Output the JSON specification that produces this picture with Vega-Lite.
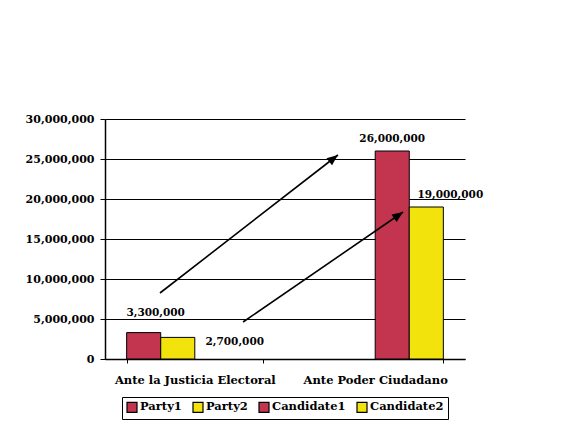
{
  "$schema": "https://vega.github.io/schema/vega-lite/v6.json",
  "autosize": {"type": "none"},
  "width": 360,
  "height": 240,
  "padding": {"left": 105, "top": 119, "right": 115, "bottom": 65},
  "background": "white",
  "config": {
    "view": {"stroke": null},
    "font": "DejaVu Serif",
    "axis": {"labelFont": "DejaVu Serif", "labelFontWeight": "bold", "labelColor": "black", "domainColor": "black", "tickColor": "black"},
    "legend": {"labelFont": "DejaVu Serif", "labelFontWeight": "bold"}
  },
  "datasets": {
    "bars": [
      {"category": "Ante la Justicia Electoral", "series": "Party1", "value": 3300000, "label": "3,300,000"},
      {"category": "Ante la Justicia Electoral", "series": "Party2", "value": 2700000, "label": "2,700,000"},
      {"category": "Ante Poder Ciudadano", "series": "Candidate1", "value": 26000000, "label": "26,000,000"},
      {"category": "Ante Poder Ciudadano", "series": "Candidate2", "value": 19000000, "label": "19,000,000"}
    ],
    "arrows": [
      {"arrow": "a1", "x1": 0.3056, "y1": 8250000, "x2": 1.294, "y2": 25500000},
      {"arrow": "a2", "x1": 0.767, "y1": 4625000, "x2": 1.656, "y2": 18375000}
    ]
  },
  "layer": [
    {
      "data": {"name": "bars"},
      "encoding": {
        "x": {"field": "category", "type": "nominal", "sort": null,
              "scale": {"paddingInner": 0.2444, "paddingOuter": 0.12},
              "axis": {"title": null, "labelAngle": 0, "labelFontSize": 11.5, "tickBand": "extent", "tickSize": 4, "labelPadding": 11, "domainWidth": 1.5, "grid": false}},
        "xOffset": {"field": "series", "type": "nominal", "scale": {"domain": ["Party1", "Party2", "Candidate1", "Candidate2"], "paddingInner": 0, "paddingOuter": 0}},
        "y": {"field": "value", "type": "quantitative",
              "scale": {"domain": [0, 30000000], "nice": false},
              "axis": {"title": null, "format": ",d", "values": [0, 5000000, 10000000, 15000000, 20000000, 25000000, 30000000], "labelOverlap": false, "labelFontSize": 11, "tickSize": 5, "labelPadding": 6, "grid": true, "gridColor": "black", "gridOpacity": 1, "gridWidth": 1.2, "domainWidth": 1.5}}
      },
      "layer": [
        {
          "mark": {"type": "bar", "stroke": "black", "strokeWidth": 1},
          "encoding": {
            "color": {"field": "series", "type": "nominal",
                      "scale": {"domain": ["Party1", "Party2", "Candidate1", "Candidate2"], "range": ["#c3344f", "#f2e30c", "#c3344f", "#f2e30c"]},
                      "legend": {"title": null, "orient": "none", "legendX": 17, "legendY": 278, "direction": "horizontal", "columns": 4, "symbolType": "square", "symbolSize": 100, "symbolStrokeColor": "black", "symbolStrokeWidth": 1.2, "labelFontSize": 11.5, "labelColor": "black", "columnPadding": 8, "labelOffset": 2, "strokeColor": "black", "padding": 4, "fillColor": "white"}}
          }
        },
        {
          "transform": [{"filter": "datum.series === 'Party1'"}],
          "mark": {"type": "text", "dx": 12, "dy": -20, "fontSize": 10.5, "fontWeight": "bold", "font": "DejaVu Serif", "color": "black"},
          "encoding": {"text": {"field": "label"}}
        },
        {
          "transform": [{"filter": "datum.series === 'Candidate1'"}],
          "mark": {"type": "text", "dy": -12, "fontSize": 10.5, "fontWeight": "bold", "font": "DejaVu Serif", "color": "black"},
          "encoding": {"text": {"field": "label"}}
        },
        {
          "transform": [{"filter": "datum.series === 'Party2'"}],
          "mark": {"type": "text", "dx": 57, "dy": 5, "fontSize": 10.5, "fontWeight": "bold", "font": "DejaVu Serif", "color": "black"},
          "encoding": {"text": {"field": "label"}}
        },
        {
          "transform": [{"filter": "datum.series === 'Candidate2'"}],
          "mark": {"type": "text", "dx": 24, "dy": -12, "fontSize": 10.5, "fontWeight": "bold", "font": "DejaVu Serif", "color": "black"},
          "encoding": {"text": {"field": "label"}}
        }
      ]
    },
    {
      "data": {"name": "arrows"},
      "encoding": {
        "x": {"field": "x1", "type": "quantitative", "scale": {"domain": [0, 2], "nice": false, "zero": false}, "axis": null},
        "y": {"field": "y1", "type": "quantitative",
              "axis": {"title": null, "format": ",d", "values": [0, 5000000, 10000000, 15000000, 20000000, 25000000, 30000000], "labelOverlap": false, "labelFontSize": 11, "tickSize": 5, "labelPadding": 6, "grid": true, "gridColor": "black", "gridOpacity": 1, "gridWidth": 1.2, "domainWidth": 1.5}}
      },
      "layer": [
        {
          "mark": {"type": "rule", "color": "black", "strokeWidth": 1.6},
          "encoding": {"x2": {"field": "x2"}, "y2": {"field": "y2"}}
        },
        {
          "transform": [{"filter": "datum.arrow === 'a1'"}],
          "mark": {"type": "point", "shape": "M0,0L-0.45,1.1L0.45,1.1Z", "filled": true, "color": "black", "size": 400, "opacity": 1, "angle": 52},
          "encoding": {
            "x": {"field": "x2", "type": "quantitative"},
            "y": {"field": "y2", "type": "quantitative"}
          }
        },
        {
          "transform": [{"filter": "datum.arrow === 'a2'"}],
          "mark": {"type": "point", "shape": "M0,0L-0.45,1.1L0.45,1.1Z", "filled": true, "color": "black", "size": 400, "opacity": 1, "angle": 55},
          "encoding": {
            "x": {"field": "x2", "type": "quantitative"},
            "y": {"field": "y2", "type": "quantitative"}
          }
        }
      ]
    }
  ],
  "resolve": {"scale": {"x": "independent"}, "axis": {"x": "independent"}}
}
